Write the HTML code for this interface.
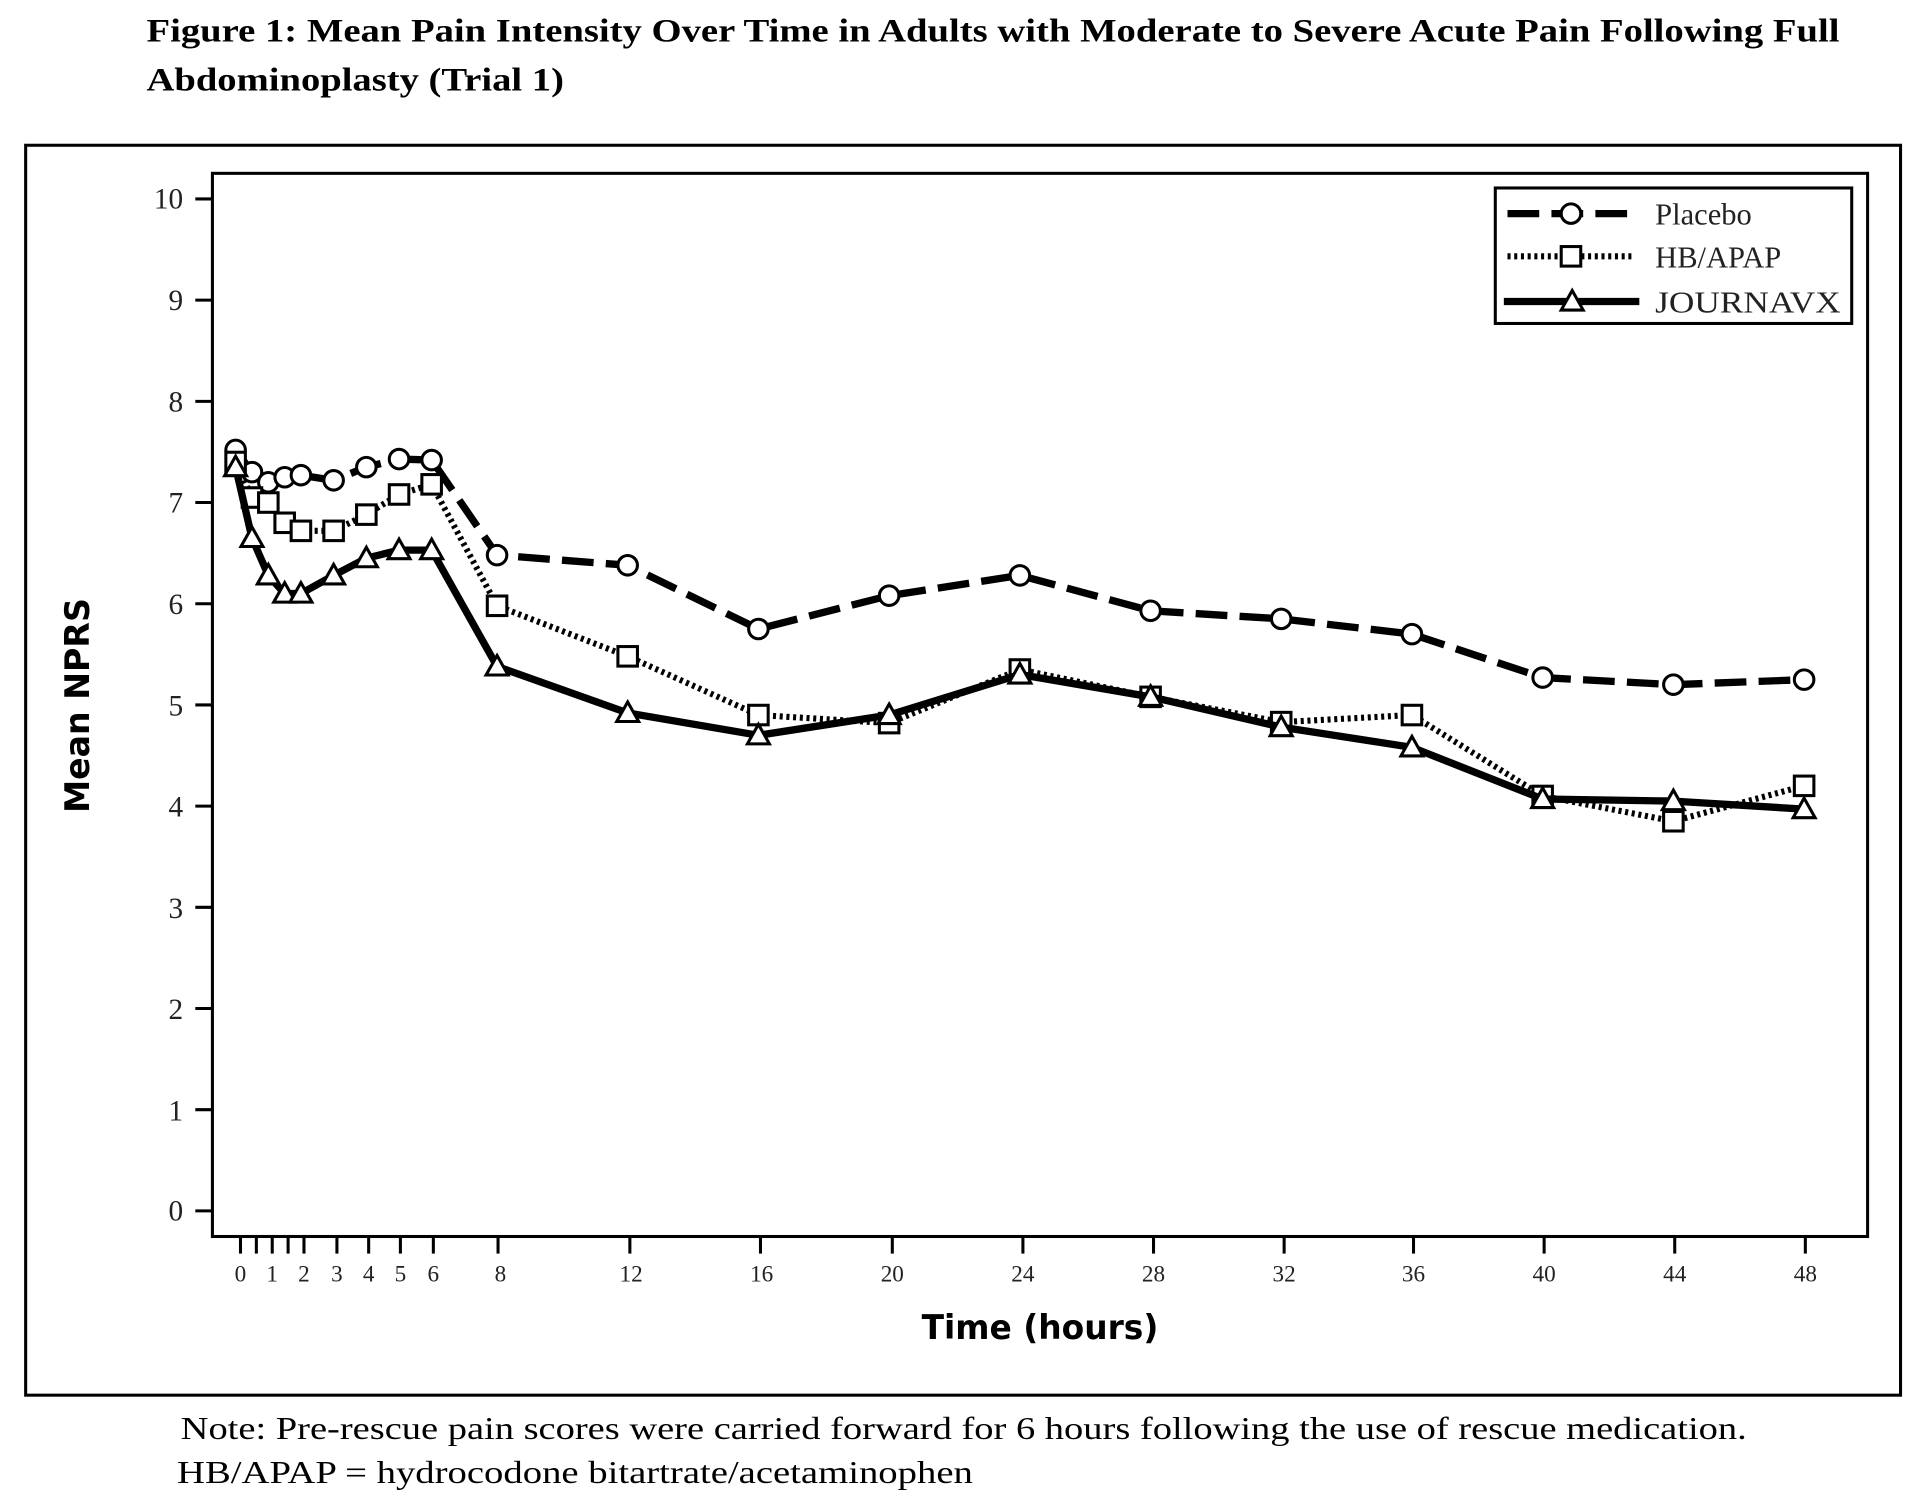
<!DOCTYPE html>
<html><head><meta charset="utf-8"><style>html,body{margin:0;padding:0;background:#fff}svg{display:block}</style></head>
<body>
<svg width="1914" height="1496" viewBox="0 0 1568 1225.6" xmlns="http://www.w3.org/2000/svg">
<g font-family="'Liberation Serif',serif" font-weight="bold" font-size="27">
<text x="120" y="34" textLength="1387" lengthAdjust="spacingAndGlyphs">Figure 1: Mean Pain Intensity Over Time in Adults with Moderate to Severe Acute Pain Following Full</text>
<text x="120" y="74" textLength="342" lengthAdjust="spacingAndGlyphs">Abdominoplasty (Trial 1)</text>
</g>
<rect x="21" y="119" width="1536" height="1024" fill="none" stroke="#000" stroke-width="2.5"/>
<rect x="174" y="142" width="1356" height="871" fill="none" stroke="#000" stroke-width="2.5"/>
<g stroke="#000" stroke-width="2.5">
<line x1="160" y1="163" x2="174" y2="163"/><line x1="160" y1="245.9" x2="174" y2="245.9"/><line x1="160" y1="328.8" x2="174" y2="328.8"/><line x1="160" y1="411.7" x2="174" y2="411.7"/><line x1="160" y1="494.6" x2="174" y2="494.6"/><line x1="160" y1="577.5" x2="174" y2="577.5"/><line x1="160" y1="660.4" x2="174" y2="660.4"/><line x1="160" y1="743.3" x2="174" y2="743.3"/><line x1="160" y1="826.2" x2="174" y2="826.2"/><line x1="160" y1="909.1" x2="174" y2="909.1"/><line x1="160" y1="992" x2="174" y2="992"/>
</g>
<g font-family="'Liberation Serif',serif" font-size="24" text-anchor="end" fill="#222">
<text x="150" y="171">10</text><text x="150" y="254">9</text><text x="150" y="337">8</text><text x="150" y="420">7</text><text x="150" y="503">6</text><text x="150" y="586">5</text><text x="150" y="669">4</text><text x="150" y="752">3</text><text x="150" y="835">2</text><text x="150" y="918">1</text><text x="150" y="1000">0</text>
</g>
<g stroke="#000" stroke-width="2.5">
<line x1="197" y1="1013" x2="197" y2="1027"/><line x1="210" y1="1013" x2="210" y2="1027"/><line x1="223" y1="1013" x2="223" y2="1027"/><line x1="236" y1="1013" x2="236" y2="1027"/><line x1="249" y1="1013" x2="249" y2="1027"/><line x1="276" y1="1013" x2="276" y2="1027"/><line x1="302" y1="1013" x2="302" y2="1027"/><line x1="328" y1="1013" x2="328" y2="1027"/><line x1="355" y1="1013" x2="355" y2="1027"/><line x1="408" y1="1013" x2="408" y2="1027"/><line x1="516" y1="1013" x2="516" y2="1027"/><line x1="623" y1="1013" x2="623" y2="1027"/><line x1="731" y1="1013" x2="731" y2="1027"/><line x1="838" y1="1013" x2="838" y2="1027"/><line x1="945" y1="1013" x2="945" y2="1027"/><line x1="1052" y1="1013" x2="1052" y2="1027"/><line x1="1158" y1="1013" x2="1158" y2="1027"/><line x1="1265" y1="1013" x2="1265" y2="1027"/><line x1="1372" y1="1013" x2="1372" y2="1027"/><line x1="1479" y1="1013" x2="1479" y2="1027"/>
</g>
<g font-family="'Liberation Serif',serif" font-size="19" text-anchor="middle" fill="#222">
<text x="197" y="1050">0</text><text x="223" y="1050">1</text><text x="249" y="1050">2</text><text x="276" y="1050">3</text><text x="302" y="1050">4</text><text x="328" y="1050">5</text><text x="355" y="1050">6</text><text x="410" y="1050">8</text><text x="517" y="1050">12</text><text x="624" y="1050">16</text><text x="731" y="1050">20</text><text x="838" y="1050">24</text><text x="945" y="1050">28</text><text x="1052" y="1050">32</text><text x="1158" y="1050">36</text><text x="1265" y="1050">40</text><text x="1372" y="1050">44</text><text x="1479" y="1050">48</text>
</g>
<text x="852" y="1097" font-family="'DejaVu Sans',sans-serif" font-weight="bold" font-size="28" text-anchor="middle" textLength="194" lengthAdjust="spacingAndGlyphs">Time (hours)</text>
<text transform="translate(73,578) rotate(-90)" font-family="'DejaVu Sans',sans-serif" font-weight="bold" font-size="28" text-anchor="middle" textLength="176" lengthAdjust="spacingAndGlyphs">Mean NPRS</text>

<polyline fill="none" stroke="#000" stroke-width="6" stroke-dasharray="26,10" points="193,368.6 206.4,386.8 219.8,395.1 233.2,391 246.5,389.3 273.3,393.5 300.1,382.7 326.9,376.1 353.6,376.9 407.2,454.8 514.2,463.1 621.3,515.3 728.4,488 835.5,471.4 942.6,500.4 1049.6,507 1156.7,519.5 1263.8,555.1 1370.9,560.9 1478,556.8"/>
<g fill="#fff" stroke="#000" stroke-width="2.5">
<circle cx="193" cy="368.6" r="8"/><circle cx="206.4" cy="386.8" r="8"/><circle cx="219.8" cy="395.1" r="8"/><circle cx="233.2" cy="391" r="8"/><circle cx="246.5" cy="389.3" r="8"/><circle cx="273.3" cy="393.5" r="8"/><circle cx="300.1" cy="382.7" r="8"/><circle cx="326.9" cy="376.1" r="8"/><circle cx="353.6" cy="376.9" r="8"/><circle cx="407.2" cy="454.8" r="8"/><circle cx="514.2" cy="463.1" r="8"/><circle cx="621.3" cy="515.3" r="8"/><circle cx="728.4" cy="488" r="8"/><circle cx="835.5" cy="471.4" r="8"/><circle cx="942.6" cy="500.4" r="8"/><circle cx="1049.6" cy="507" r="8"/><circle cx="1156.7" cy="519.5" r="8"/><circle cx="1263.8" cy="555.1" r="8"/><circle cx="1370.9" cy="560.9" r="8"/><circle cx="1478" cy="556.8" r="8"/>
</g>
<polyline fill="none" stroke="#000" stroke-width="5" stroke-dasharray="2.5,3" points="193,378.5 206.4,407.6 219.8,411.7 233.2,428.3 246.5,434.9 273.3,434.9 300.1,421.6 326.9,405.1 353.6,396.8 407.2,496.3 514.2,537.7 621.3,585.8 728.4,592.4 835.5,548.5 942.6,570.9 1049.6,591.6 1156.7,585.8 1263.8,652.1 1370.9,672.8 1478,643.8"/>
<g fill="#fff" stroke="#000" stroke-width="2.5">
<rect x="185" y="370.5" width="16" height="16"/><rect x="198.4" y="399.6" width="16" height="16"/><rect x="211.8" y="403.7" width="16" height="16"/><rect x="225.2" y="420.3" width="16" height="16"/><rect x="238.5" y="426.9" width="16" height="16"/><rect x="265.3" y="426.9" width="16" height="16"/><rect x="292.1" y="413.6" width="16" height="16"/><rect x="318.9" y="397.1" width="16" height="16"/><rect x="345.6" y="388.8" width="16" height="16"/><rect x="399.2" y="488.3" width="16" height="16"/><rect x="506.2" y="529.7" width="16" height="16"/><rect x="613.3" y="577.8" width="16" height="16"/><rect x="720.4" y="584.4" width="16" height="16"/><rect x="827.5" y="540.5" width="16" height="16"/><rect x="934.6" y="562.9" width="16" height="16"/><rect x="1041.6" y="583.6" width="16" height="16"/><rect x="1148.7" y="577.8" width="16" height="16"/><rect x="1255.8" y="644.1" width="16" height="16"/><rect x="1362.9" y="664.8" width="16" height="16"/><rect x="1470" y="635.8" width="16" height="16"/>
</g>
<polyline fill="none" stroke="#000" stroke-width="6" stroke-linejoin="round" points="193,382.7 206.4,440.7 219.8,471.4 233.2,486.3 246.5,486.3 273.3,471.4 300.1,457.3 326.9,450.7 353.6,450.7 407.2,546 514.2,584.1 621.3,602.4 728.4,585.8 835.5,552.6 942.6,570.9 1049.6,595.7 1156.7,612.3 1263.8,654.6 1370.9,656.3 1478,662.9"/>
<g fill="#fff" stroke="#000" stroke-width="2.5">
<path d="M193,373.7 l9,16 h-18z"/><path d="M206.4,431.7 l9,16 h-18z"/><path d="M219.8,462.4 l9,16 h-18z"/><path d="M233.2,477.3 l9,16 h-18z"/><path d="M246.5,477.3 l9,16 h-18z"/><path d="M273.3,462.4 l9,16 h-18z"/><path d="M300.1,448.3 l9,16 h-18z"/><path d="M326.9,441.7 l9,16 h-18z"/><path d="M353.6,441.7 l9,16 h-18z"/><path d="M407.2,537 l9,16 h-18z"/><path d="M514.2,575.1 l9,16 h-18z"/><path d="M621.3,593.4 l9,16 h-18z"/><path d="M728.4,576.8 l9,16 h-18z"/><path d="M835.5,543.6 l9,16 h-18z"/><path d="M942.6,561.9 l9,16 h-18z"/><path d="M1049.6,586.7 l9,16 h-18z"/><path d="M1156.7,603.3 l9,16 h-18z"/><path d="M1263.8,645.6 l9,16 h-18z"/><path d="M1370.9,647.3 l9,16 h-18z"/><path d="M1478,653.9 l9,16 h-18z"/>
</g>
<rect x="1225" y="154" width="292" height="111" fill="#fff" stroke="#000" stroke-width="2.5"/>
<line x1="1235" y1="175" x2="1337" y2="175" stroke="#000" stroke-width="6" stroke-dasharray="26,10"/>
<circle cx="1287" cy="175" r="8" fill="#fff" stroke="#000" stroke-width="2.5"/>
<line x1="1235" y1="210" x2="1337" y2="210" stroke="#000" stroke-width="5" stroke-dasharray="2.5,3"/>
<rect x="1279" y="202" width="16" height="16" fill="#fff" stroke="#000" stroke-width="2.5"/>
<line x1="1232" y1="247" x2="1343" y2="247" stroke="#000" stroke-width="6"/>
<path d="M1288,238 l9,16 h-18z" fill="#fff" stroke="#000" stroke-width="2.5"/>
<g font-family="'Liberation Serif',serif" font-size="25" fill="#222">
<text x="1356" y="184">Placebo</text><text x="1356" y="219">HB/APAP</text><text x="1356" y="256" textLength="152" lengthAdjust="spacingAndGlyphs">JOURNAVX</text>
</g>
<g font-family="'Liberation Serif',serif" font-size="26">
<text x="148" y="1179" textLength="1283" lengthAdjust="spacingAndGlyphs">Note: Pre-rescue pain scores were carried forward for 6 hours following the use of rescue medication.</text>
<text x="145" y="1215" textLength="652" lengthAdjust="spacingAndGlyphs">HB/APAP = hydrocodone bitartrate/acetaminophen</text>
</g>
</svg>
</body></html>
